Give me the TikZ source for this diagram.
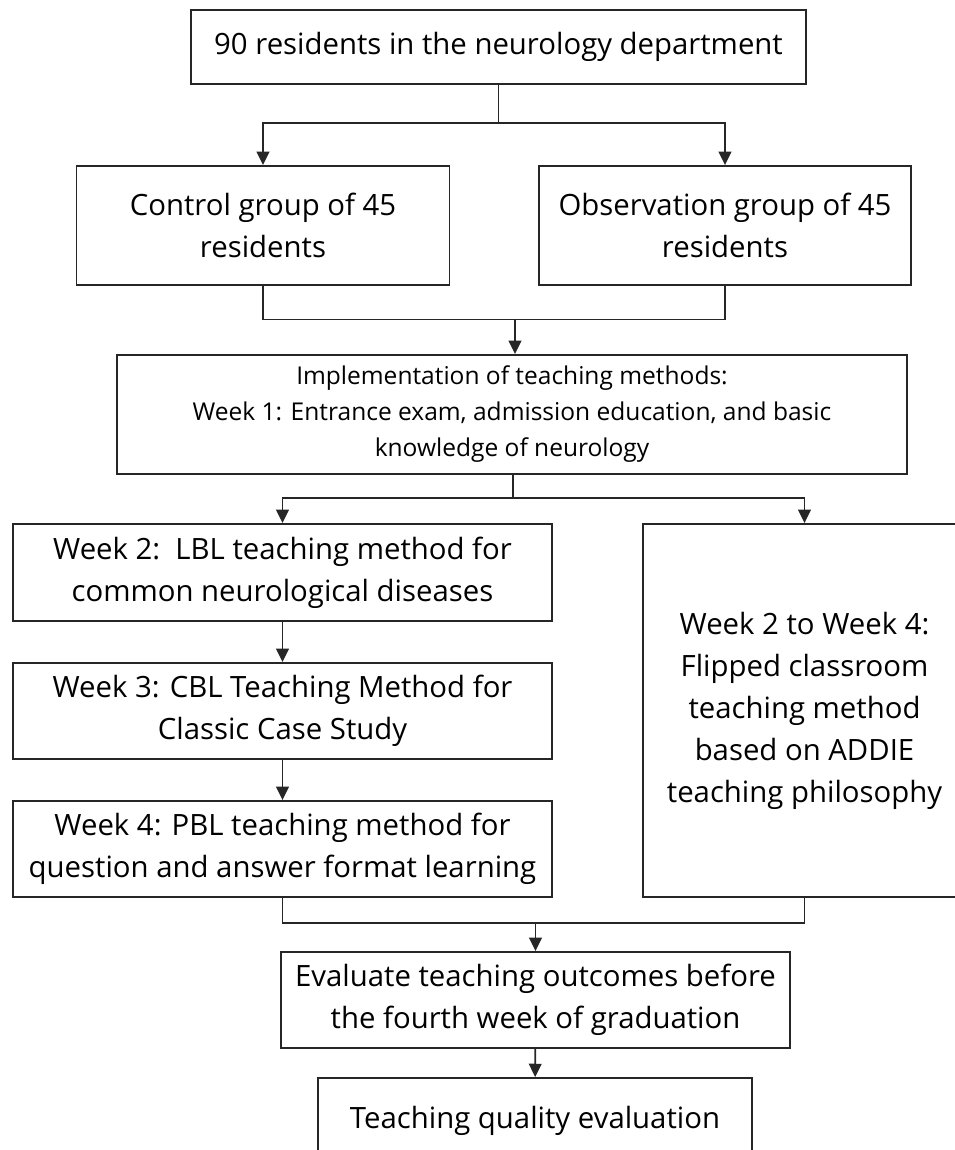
\documentclass[tikz,border=0pt]{standalone}
\usepackage{fontspec}
\setmainfont{Open Sans}
\usetikzlibrary{arrows.meta,positioning,calc}
\tikzset{b/.style={draw=black!85,line width=1.4pt,align=center,inner sep=0pt,font=\fontsize{22}{31.5}\selectfont},
 s/.style={font=\fontsize{18.4}{27}\selectfont},
 flow/.style={-{Triangle[length=10pt,width=9.5pt]},line width=1.4pt,draw=black!85},wire/.style={line width=1.4pt,draw=black!85}}
\begin{document}
\begin{tikzpicture}[x=.75pt,y=-.75pt]
\useasboundingbox(0,0)rectangle(954,1150);
\node[b,minimum width=461.25pt,minimum height=55.5pt](top) at(498.5,47){90 residents in the neurology department};
\node[b,minimum width=279.75pt,minimum height=89.25pt](ctrl) at(263,225.5){Control group of 45\\residents};
\node[b,minimum width=279pt,minimum height=89.25pt](obs) at(725,225.5){Observation group of 45\\residents};
\node[b,s,minimum width=592.5pt,minimum height=89.25pt](impl) at(512,414.5){Implementation of teaching methods:\\Week 1: Entrance exam, admission education, and basic\\knowledge of neurology};
\node[b,minimum width=404.25pt,minimum height=72.75pt](w2) at(282.5,572.5){Week 2:\ \ LBL teaching method for\\common neurological diseases};
\node[b,minimum width=404.25pt,minimum height=72pt](w3) at(282.5,711){Week 3: CBL Teaching Method for\\Classic Case Study};
\node[b,minimum width=404.25pt,minimum height=72pt](w4) at(282.5,849){Week 4: PBL teaching method for\\question and answer format learning};
\node[b,minimum width=242.25pt,minimum height=279.75pt](flip) at(804.5,710.5){Week 2 to Week 4:\\Flipped classroom\\teaching method\\based on ADDIE\\teaching philosophy};
\node[b,minimum width=381.75pt,minimum height=72pt](eval) at(535.5,1000){Evaluate teaching outcomes before\\the fourth week of graduation};
\node[b,minimum width=325.5pt,minimum height=64.5pt](qual) at(535,1121){Teaching quality evaluation};
% split and merge
\coordinate(s1) at(498.5,123);
\draw[wire](top)--(s1);
\draw[flow](s1)-|(ctrl.north);\draw[flow](s1)-|(obs.north);
\coordinate(m1) at(515,319.5);
\draw[wire](ctrl.south)|-(m1)-|(obs.south);
\draw[flow](m1)--(m1|-impl.north);
\coordinate(m2) at(513,498);
\draw[wire](m2|-impl.south)--(m2);
\draw[flow](m2)-|(w2.north);\draw[flow](m2)-|(flip.north);
\draw[flow](w2)--(w3);\draw[flow](w3)--(w4);
\coordinate(m3) at(535.5,923);
\draw[wire](w4.south)|-(m3)-|(flip.south);
\draw[flow](m3)--(eval.north);
\draw[flow](eval)--(qual);
\end{tikzpicture}
\end{document}
